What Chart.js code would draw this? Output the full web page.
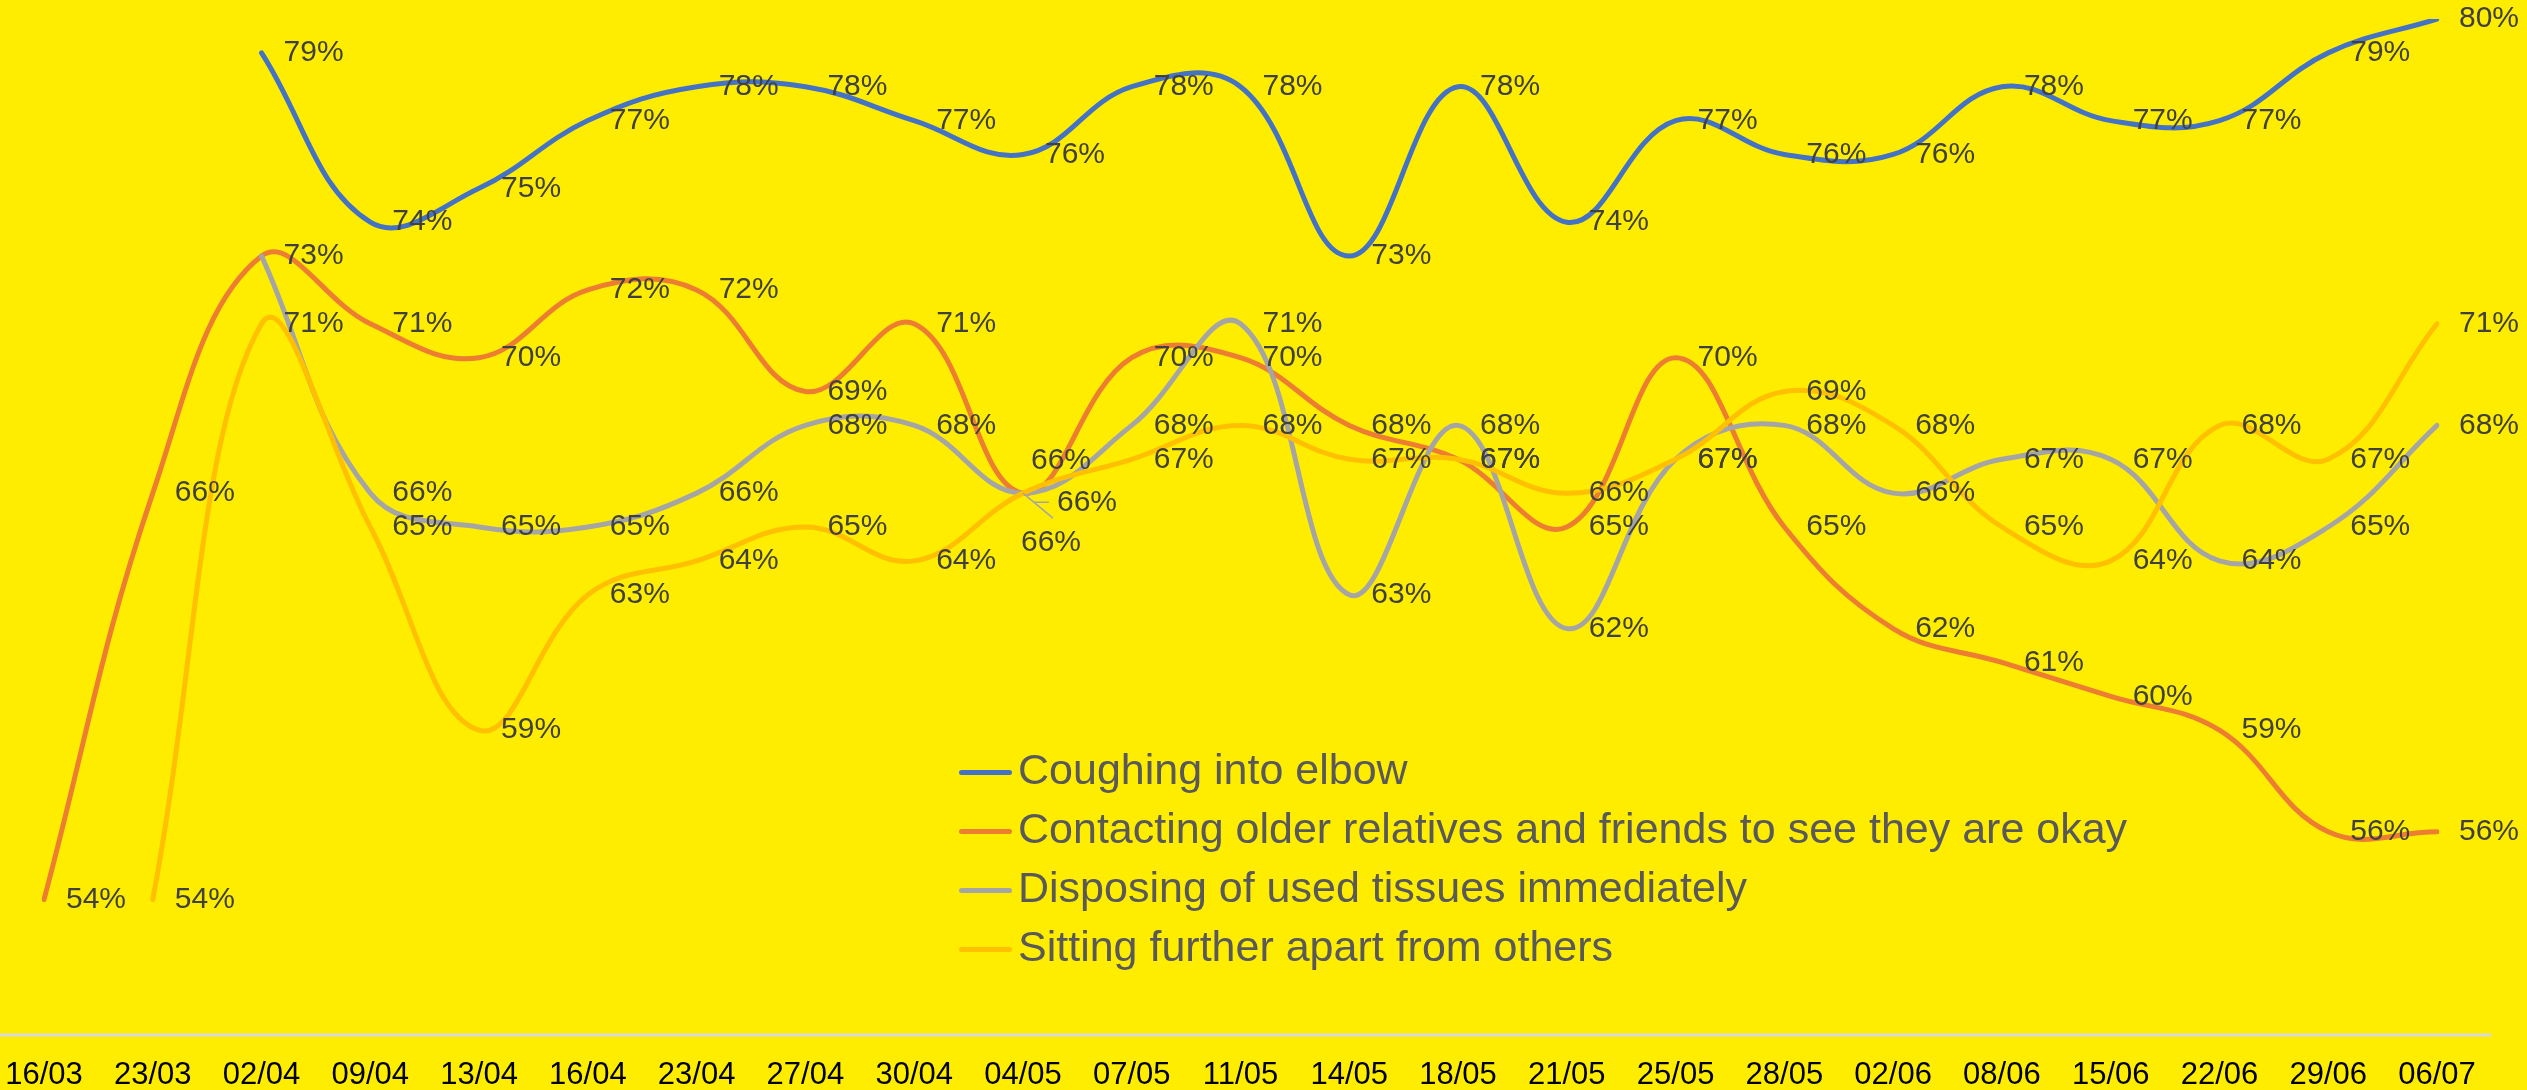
<!DOCTYPE html>
<html>
<head>
<meta charset="utf-8">
<title>Protective behaviours</title>
<script src="https://cdn.jsdelivr.net/npm/chart.js@4.4.1/dist/chart.umd.min.js"></script>
<style>
  html, body { margin: 0; padding: 0; background: #FFED00; overflow: hidden; }
  #wrap { position: relative; width: 2527px; height: 1090px; }
  #legend { position: absolute; left: 959px; top: 740px; font-family: "Liberation Sans", Arial, sans-serif; font-size: 43px; color: #595959; }
  .lg-row { height: 59px; line-height: 59px; white-space: nowrap; }
  .lg-line { display: inline-block; width: 53px; height: 5px; border-radius: 3px; vertical-align: middle; margin-right: 6px; }
</style>
</head>
<body>
<div id="wrap">
  <canvas id="chart" width="2527" height="1090"></canvas>
  <div id="legend"></div>
</div>
<script>
const DATES = ['16/03', '23/03', '02/04', '09/04', '13/04', '16/04', '23/04', '27/04', '30/04', '04/05', '07/05',
  '11/05', '14/05', '18/05', '21/05', '25/05', '28/05', '02/06', '08/06', '15/06', '22/06', '29/06', '06/07'];

const SERIES_NAMES = [
  'Coughing into elbow',
  'Contacting older relatives and friends to see they are okay',
  'Disposing of used tissues immediately',
  'Sitting further apart from others'
];

const COUGHING   = [null, null, 79, 74, 75, 77, 78, 78, 77, 76, 78, 78, 73, 78, 74, 77, 76, 76, 78, 77, 77, 79, 80];
const CONTACTING = [54, 66, 73, 71, 70, 72, 72, 69, 71, 66, 70, 70, 68, 67, 65, 70, 65, 62, 61, 60, 59, 56, 56];
const TISSUES    = [null, null, 73, 66, 65, 65, 66, 68, 68, 66, 68, 71, 63, 68, 62, 67, 68, 66, 67, 67, 64, 65, 68];
const SITTING    = [null, 54, 71, 65, 59, 63, 64, 65, 64, 66, 67, 68, 67, 67, 66, 67, 69, 68, 65, 64, 68, 67, 71];

const COLORS = ['#4472C4', '#ED7D31', '#A5A5A5', '#FFC000'];
const Y_MIN = 50, Y_MAX = 80;

// labels that were moved by hand in the original (dataset:index -> dx, dy)
const LABEL_NUDGE = { '1:9': [8, -32], '2:9': [34, 10], '3:9': [-2, 50] };
// labels not shown in the original
const LABEL_HIDDEN = ['2:2'];

const FONT = '"Liberation Sans", Arial, sans-serif';

const valueLabels = {
  id: 'valueLabels',
  afterDatasetsDraw(chart) {
    const ctx = chart.ctx;
    ctx.save();
    ctx.font = '30px ' + FONT;
    ctx.fillStyle = '#404040';
    ctx.textBaseline = 'middle';
    ctx.textAlign = 'left';
    chart.data.datasets.forEach((ds, di) => {
      chart.getDatasetMeta(di).data.forEach((pt, i) => {
        const v = ds.data[i];
        const key = di + ':' + i;
        if (v == null || LABEL_HIDDEN.includes(key)) return;
        const [dx, dy] = LABEL_NUDGE[key] || [22, 0];
        if (key === '2:9') {
          // leader line for the moved label
          ctx.strokeStyle = COLORS[2]; ctx.lineWidth = 1.5;
          ctx.beginPath();
          ctx.moveTo(pt.x, pt.y); ctx.lineTo(pt.x + 30, pt.y + 25);
          ctx.moveTo(pt.x + 11, pt.y + 9); ctx.lineTo(pt.x + 26, pt.y + 9);
          ctx.stroke();
        }
        ctx.fillText(v + '%', pt.x + dx, pt.y + dy);
      });
    });
    ctx.restore();
  }
};

const baseLine = {
  id: 'baseLine',
  beforeDatasetsDraw(chart) {
    const {ctx, scales: {x, y}} = chart;
    const half = (x.getPixelForValue(1) - x.getPixelForValue(0)) / 2;
    const py = y.getPixelForValue(Y_MIN);
    ctx.save();
    ctx.strokeStyle = '#D9D9D9';
    ctx.lineWidth = 3;
    ctx.beginPath();
    ctx.moveTo(0, py);
    ctx.lineTo(x.right + half, py);
    ctx.stroke();
    ctx.restore();
  }
};

const seriesData = [COUGHING, CONTACTING, TISSUES, SITTING];

new Chart(document.getElementById('chart'), {
  type: 'line',
  data: {
    labels: DATES,
    datasets: seriesData.map((d, i) => ({
      label: SERIES_NAMES[i],
      data: d,
      borderColor: COLORS[i],
      backgroundColor: COLORS[i],
      order: 3 - i
    }))
  },
  options: {
    responsive: false,
    animation: false,
    devicePixelRatio: 1,
    layout: { padding: { left: 44, right: 90, top: 19, bottom: 0 } },
    elements: {
      line: { borderWidth: 5, tension: 0.4, borderCapStyle: 'round', borderJoinStyle: 'round', fill: false },
      point: { radius: 0, hoverRadius: 0 }
    },
    plugins: { legend: { display: false }, tooltip: { enabled: false } },
    scales: {
      x: {
        offset: false,
        grid: { display: false },
        border: { display: false },
        ticks: { color: '#000000', font: { family: FONT, size: 31 }, padding: 14, maxRotation: 0, autoSkip: false },
        afterFit(s) { s.height = 55; s.paddingLeft = 0; s.paddingRight = 0; }
      },
      y: { display: false, min: Y_MIN, max: Y_MAX }
    }
  },
  plugins: [baseLine, valueLabels]
});

const legend = document.getElementById('legend');
SERIES_NAMES.forEach((name, i) => {
  const row = document.createElement('div'); row.className = 'lg-row';
  const line = document.createElement('span'); line.className = 'lg-line'; line.style.background = COLORS[i];
  const txt = document.createElement('span'); txt.textContent = name;
  row.appendChild(line); row.appendChild(txt);
  legend.appendChild(row);
});
</script>
</body>
</html>
